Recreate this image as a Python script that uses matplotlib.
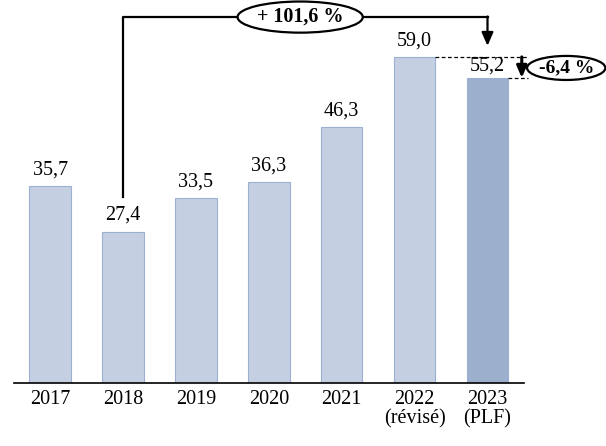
import matplotlib.pyplot as plt

plt.rcParams['font.family'] = ['Liberation Serif', 'DejaVu Serif']

# ----------------------------
# Data
# ----------------------------

years = ["2017", "2018", "2019", "2020", "2021", "2022\n(révisé)", "2023\n(PLF)"]
values = [35.7, 27.4, 33.5, 36.3, 46.3, 59.0, 55.2]
labels = ["35,7", "27,4", "33,5", "36,3", "46,3", "59,0", "55,2"]

colors = ["#C4CFE1"] * 6 + ["#9CAFCD"]

# ----------------------------
# Plot
# ----------------------------

fig = plt.figure(figsize=(6.06, 4.46), dpi=100)
ax = fig.add_axes([0.0226, 0.141, 0.842, 0.843])

x = list(range(len(years)))
ax.bar(x, values, width=0.57, color=colors, edgecolor="#9DB0D2", linewidth=0.8)

for xi, v, lab in zip(x, values, labels):
    # last label sits a bit lower, under the dashed line
    off = 0.5 if xi == len(x) - 1 else 1.2
    ax.text(xi, v + off, lab, ha="center", va="bottom", fontsize=14.5)

ax.set_xlim(-0.5, 6.5)
ax.set_ylim(0, 68)
ax.set_xticks(x)
ax.set_xticklabels(years, fontsize=14.5, linespacing=1.0)
ax.tick_params(axis="x", length=0, pad=5)
ax.set_yticks([])
for side in ["left", "right", "top"]:
    ax.spines[side].set_visible(False)
ax.spines["bottom"].set_linewidth(1.2)

# bracket 2018 -> 2023
ax.plot([1, 1, 6], [33.6, 66.2, 66.2], color="black", lw=1.6, clip_on=False)
ax.annotate("", xy=(6, 61.0), xytext=(6, 66.3),
            arrowprops=dict(arrowstyle="-|>,head_width=0.35,head_length=0.8",
                            color="black", lw=1.6, shrinkA=0, shrinkB=0),
            annotation_clip=False)
ax.text(3.43, 66.2, "+ 101,6 %", ha="center", va="center", fontsize=14.5,
        fontweight="bold",
        bbox=dict(boxstyle="ellipse,pad=0.05", fc="white", ec="black", lw=1.6))

# 2022 -> 2023 change
ax.plot([5.285, 6.55], [59.0, 59.0], color="black", lw=0.9, ls=(0, (3, 2)), clip_on=False)
ax.plot([6.285, 6.55], [55.2, 55.2], color="black", lw=0.9, ls=(0, (3, 2)), clip_on=False)
ax.annotate("", xy=(6.47, 55.2), xytext=(6.47, 59.0),
            arrowprops=dict(arrowstyle="-|>,head_width=0.3,head_length=0.7",
                            color="black", lw=2.2, shrinkA=0, shrinkB=0),
            annotation_clip=False)
ax.text(7.08, 57.0, "-6,4 %", ha="center", va="center", fontsize=14,
        fontweight="bold",
        bbox=dict(boxstyle="ellipse,pad=0.0", fc="white", ec="black", lw=1.6))

plt.savefig("out.png", dpi=100)
